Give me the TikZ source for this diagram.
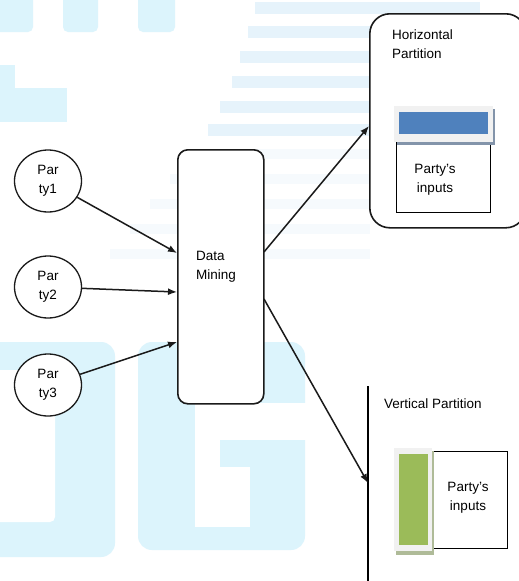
\documentclass[tikz,border=0pt]{standalone}
\usepackage{fontspec}
\setmainfont{Liberation Sans}
\usetikzlibrary{shapes.geometric,arrows.meta}
\definecolor{wm}{HTML}{DCF4FC}
\definecolor{wmstripe}{HTML}{E6F3FB}
\definecolor{barblue}{HTML}{4F81BD}
\definecolor{bargreen}{HTML}{9BBB59}
\definecolor{barframe}{HTML}{F1F1F1}
\definecolor{lineink}{HTML}{1A1A1A}
\tikzset{
  txt/.style={font=\fontsize{13.5}{19}\selectfont, text=black, inner sep=0pt},
  party/.style={ellipse, draw=lineink, line width=1.3pt, fill=white, minimum width=67pt, minimum height=62pt, inner sep=0pt, align=center, txt},
  procbox/.style={draw=lineink, line width=1.6pt, fill=white, rounded corners=10pt, inner sep=0pt},
  plainbox/.style={draw=black, line width=1.4pt, fill=white, inner sep=0pt},
  arr/.style={draw=lineink, line width=1.5pt, -{Latex[length=9pt,width=7pt]}},
}
\begin{document}
\begin{tikzpicture}[x=1pt,y=-1pt]
\useasboundingbox (0,0) rectangle (519,581);
\clip (0,0) rectangle (519,581);
% watermark
\fill[white] (0,0) rectangle (519,581);
\foreach \yy/\xx/\xr in {2/255/480, 26/248/370, 51/240/370, 76/232/370, 101/220/370, 124/208/370}
  \fill[wmstripe] (\xx,\yy) rectangle (\xr,\yy+12);
\foreach \yy/\xx in {149/190, 174/170, 199/150, 224/130, 249/110}
  \fill[wmstripe, opacity=0.35] (\xx,\yy) rectangle (370,\yy+10);
\fill[wm, rounded corners=5pt] (-10,-10) rectangle (33,32);
\fill[wm, rounded corners=5pt] (63,-10) rectangle (98,32);
\fill[wm, rounded corners=5pt] (138,-10) rectangle (175,32);
\fill[wm] (-10,65) rectangle (15,122);
\fill[wm] (15,88) rectangle (67,122);
\fill[wm, rounded corners=14pt] (-30,342) rectangle (115,557);
\fill[white, rounded corners=5pt] (-30,370) rectangle (55,522);
\fill[wm, rounded corners=14pt] (138,342) rectangle (305,550);
\fill[white] (195,403) rectangle (306,440);
\fill[white] (195,440) rectangle (220,527);
\fill[white] (220,467) rectangle (250,527);

% horizontal partition container
\node[procbox, rounded corners=20pt, minimum width=156pt, minimum height=214pt, anchor=north west] (hp) at (369,13) {};
\node[txt, anchor=west, align=left] (hpt) at (392,44) {Horizontal\\Partition};
\node[plainbox, minimum width=94pt, minimum height=70pt, anchor=north west] (hin) at (396,142) {};
\fill[black!40!barblue!60] (397,109) rectangle (495,145);
\node[fill=barframe, inner sep=0pt, minimum width=99pt, minimum height=36pt, anchor=north west] (hbarf) at (394,106) {};
\node[fill=barblue, inner sep=0pt, minimum width=89pt, minimum height=22pt, anchor=north west] (hbar) at (399,112) {};
\node[txt, align=center] (hintxt) at (435,180) {Party's\\inputs};

% vertical partition
\coordinate (vtop) at (368,386);
\coordinate (vbot) at (368,584);
\draw[black, line width=1.5pt] (vtop) -- (vbot);
\node[txt, anchor=west] (vpt) at (384,404) {Vertical Partition};
\node[plainbox, minimum width=75pt, minimum height=97pt, anchor=north west] (vin) at (432,451) {};
\fill[bargreen!50!gray!70] (396,451) rectangle (434,555);
\node[fill=barframe, inner sep=0pt, minimum width=38pt, minimum height=103pt, anchor=north west] (vbarf) at (394,448) {};
\node[fill=bargreen, inner sep=0pt, minimum width=29pt, minimum height=91pt, anchor=north west] (vbar) at (399,454) {};
\node[txt, align=center] (vintxt) at (468,498) {Party's\\inputs};

% data mining
\node[procbox, minimum width=86pt, minimum height=254pt, anchor=north west] (dm) at (177,149) {};
\node[txt, anchor=west, align=left] (dmt) at (196,267) {Data\\Mining};

% parties
\node[party] (p1) at (48,181) {Par\\ty1};
\node[party] (p2) at (48,287) {Par\\ty2};
\node[party] (p3) at (48,385) {Par\\ty3};

% connector end points on borders
\coordinate (dmin1) at (177,253);
\coordinate (dmin2) at (177,292);
\coordinate (dmin3) at (177,342);
\coordinate (dmout1) at (264,252);
\coordinate (dmout2) at (264,299);
\coordinate (hpin) at (369,126);
\coordinate (vpin) at (368,483);

\draw[arr] (p1) -- (dmin1);
\draw[arr] (p2) -- (dmin2);
\draw[arr] (p3) -- (dmin3);
\draw[arr] (dmout1) -- (hpin);
\draw[arr] (dmout2) -- (vpin);
\end{tikzpicture}
\end{document}
